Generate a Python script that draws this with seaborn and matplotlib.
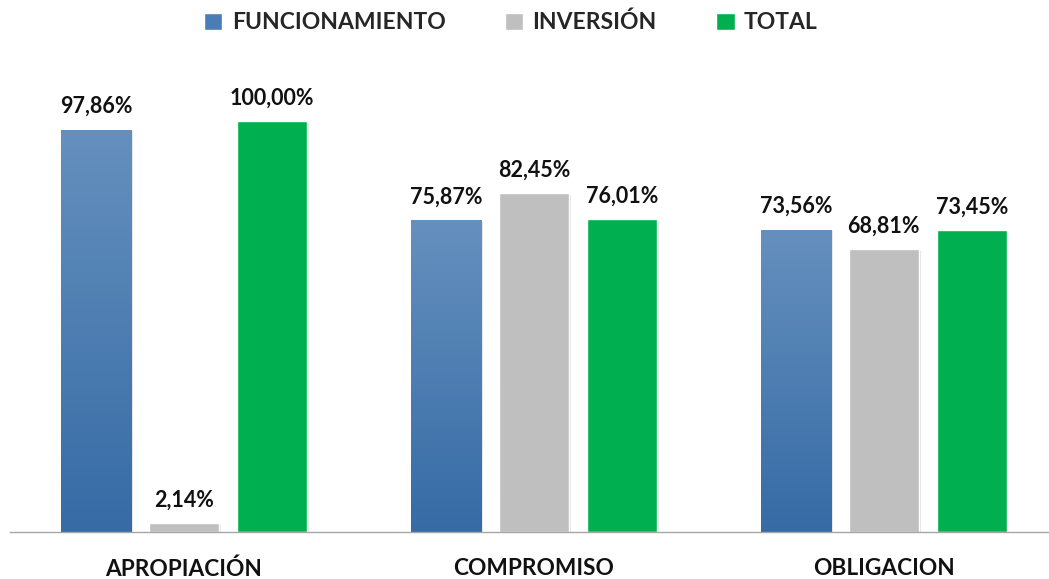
import numpy as np
import pandas as pd
import matplotlib
matplotlib.use('Agg')
import matplotlib.pyplot as plt
import matplotlib.patheffects as pe
import seaborn as sns
from matplotlib.patches import Patch

# Data
categorias = ['APROPIACIÓN', 'COMPROMISO', 'OBLIGACION']
series = ['FUNCIONAMIENTO', 'INVERSIÓN', 'TOTAL']
funcionamiento = [97.86, 75.87, 73.56]
inversion = [2.14, 82.45, 68.81]
total = [100.00, 76.01, 73.45]

colores = {'FUNCIONAMIENTO': '#4F81BD', 'INVERSIÓN': '#BFBFBF', 'TOTAL': '#00B050'}

df = pd.DataFrame({
    'categoria': categorias * 3,
    'serie': np.repeat(series, 3),
    'valor': funcionamiento + inversion + total,
})

sns.set_theme(style='white')
plt.rcParams['font.family'] = ['Lato', 'DejaVu Sans']
plt.rcParams['font.weight'] = 'bold'

fig = plt.figure(figsize=(10.49, 5.79), dpi=100)
ax = fig.add_axes([10 / 1049, 47 / 579, 1 - 10 / 1049, 472 / 579])

sns.barplot(data=df, x='categoria', y='valor', hue='serie', order=categorias,
            hue_order=series, palette=colores, width=0.754, gap=0.203,
            saturation=1, legend=False, ax=ax)

# gradient on the blue bars + value labels
grad = np.linspace(0, 1, 256).reshape(-1, 1)
top = np.array([101, 144, 190]) / 255
bot = np.array([54, 107, 165]) / 255
grad_img = top + (bot - top) * grad[:, :, None]
blue = matplotlib.colors.to_rgb(colores['FUNCIONAMIENTO'])

for bar in ax.patches:
    h = bar.get_height()
    if np.isnan(h):
        continue
    bar.set_path_effects([pe.SimplePatchShadow(offset=(1.2, -1.2), alpha=0.18,
                                               shadow_rgbFace='#555555'),
                          pe.Normal()])
    x0 = bar.get_x()
    w = bar.get_width()
    if np.allclose(bar.get_facecolor()[:3], blue):
        im = ax.imshow(grad_img, extent=[x0, x0 + w, 0, h], aspect='auto',
                       origin='upper', zorder=bar.get_zorder() + 0.1)
        im.set_clip_path(bar)
    ax.annotate(f'{h:.2f}%'.replace('.', ','), (x0 + w / 2, h),
                xytext=(0, 9), textcoords='offset points', ha='center',
                va='bottom', fontsize=15.5, fontweight='bold', color='#111111')

ax.set_xlim(-0.497, 2.472)
ax.set_ylim(0, 114.8)
ax.set_xlabel('')
ax.set_ylabel('')
ax.set_yticks([])
ax.tick_params(axis='x', length=0, pad=19, labelsize=16.3)
for lbl in ax.get_xticklabels():
    lbl.set_fontweight('bold')
    lbl.set_color('#111111')
for s in ['top', 'left', 'right']:
    ax.spines[s].set_visible(False)
ax.spines['bottom'].set_color('#A6A6A6')
ax.spines['bottom'].set_linewidth(1.0)

handles = [Patch(facecolor=colores[s] if s != 'FUNCIONAMIENTO' else '#4A7DB5', label=s)
           for s in series]
fig.legend(handles=handles, loc='center', bbox_to_anchor=(0.487, 0.961), ncol=3,
           frameon=False, handlelength=0.8, handleheight=0.8, handletextpad=0.4,
           columnspacing=2.6, prop={'size': 16.5, 'weight': 'bold'})

fig.savefig('out.png', dpi=100)
